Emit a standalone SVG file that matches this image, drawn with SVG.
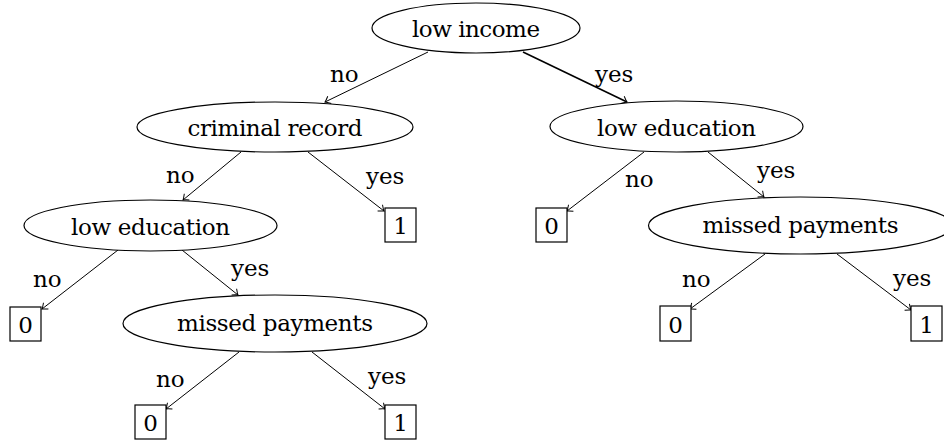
<svg xmlns="http://www.w3.org/2000/svg" width="944" height="441" viewBox="0 0 944 441">
<defs>
<style>
text{font-family:'DejaVu Serif',serif;font-size:23px;fill:#000}
.n text{text-anchor:middle}
.n ellipse,.n rect{fill:#fff;stroke:#000;stroke-width:1.2}
.e line{stroke:#000;stroke-width:1;marker-end:url(#arr)}
.e line.thick{stroke-width:1.6}
</style>
<marker id="arr" markerUnits="userSpaceOnUse" orient="auto" refX="0" refY="0" markerWidth="12" markerHeight="12" viewBox="-6 -6 12 12" overflow="visible">
<path d="M-5,-4 Q-1.5,-0.8 0,0 Q-1.5,0.8 -5,4" fill="none" stroke="#000" stroke-width="1"/>
</marker>
</defs>
<rect width="944" height="441" fill="#fff"/>
<g id="connectors" class="e">
<line x1="428" y1="52" x2="325" y2="102"/>
<line class="thick" x1="523" y1="52" x2="627" y2="102"/>
<line x1="241" y1="152" x2="183" y2="200"/>
<line x1="308" y1="152" x2="384" y2="211"/>
<line x1="118" y1="250" x2="42" y2="309"/>
<line x1="182" y1="250" x2="238" y2="295"/>
<line x1="239" y1="352" x2="166" y2="409"/>
<line x1="312" y1="352" x2="385" y2="409"/>
<line x1="644" y1="152" x2="567" y2="211"/>
<line x1="708" y1="152" x2="764" y2="197"/>
<line x1="765" y1="254" x2="690" y2="309"/>
<line x1="837" y1="254" x2="911" y2="310"/>
</g>
<g id="labels">
<text x="330" y="82">no</text>
<text x="595" y="82">yes</text>
<text x="166" y="183">no</text>
<text x="366" y="184">yes</text>
<text x="33" y="287">no</text>
<text x="231" y="276">yes</text>
<text x="156" y="387">no</text>
<text x="368" y="384">yes</text>
<text x="625" y="187">no</text>
<text x="757" y="178">yes</text>
<text x="682" y="287">no</text>
<text x="893" y="286">yes</text>
</g>
<g id="n_low_income" class="n"><ellipse cx="476" cy="28" rx="104" ry="25"/><text x="476" y="37" textLength="128">low income</text></g>
<g id="n_criminal_record" class="n"><ellipse cx="275" cy="127" rx="138" ry="25"/><text x="275" y="136" textLength="175">criminal record</text></g>
<g id="n_low_education_r" class="n"><ellipse cx="676.5" cy="126.5" rx="126.5" ry="25.5"/><text x="676.5" y="136" textLength="159">low education</text></g>
<g id="n_low_education_l" class="n"><ellipse cx="150.5" cy="225.5" rx="126.5" ry="25.5"/><text x="150.5" y="235" textLength="159">low education</text></g>
<g id="n_missed_l" class="n"><ellipse cx="275" cy="323.5" rx="152" ry="28.5"/><text x="275" y="331" textLength="196">missed payments</text></g>
<g id="n_missed_r" class="n"><ellipse cx="800.5" cy="225.5" rx="152" ry="28.5"/><text x="800.5" y="233" textLength="196">missed payments</text></g>
<g id="leaf_cr_yes" class="n"><rect x="385" y="208" width="31" height="34"/><text x="400.5" y="234">1</text></g>
<g id="leaf_le_no" class="n"><rect x="10" y="307" width="31" height="34"/><text x="25.5" y="333">0</text></g>
<g id="leaf_mp_l_no" class="n"><rect x="135" y="405" width="31" height="34"/><text x="150.5" y="431">0</text></g>
<g id="leaf_mp_l_yes" class="n"><rect x="385" y="405" width="31" height="34"/><text x="400.5" y="431">1</text></g>
<g id="leaf_le_r_no" class="n"><rect x="536" y="208" width="31" height="34"/><text x="551.5" y="234">0</text></g>
<g id="leaf_mp_r_no" class="n"><rect x="660" y="306" width="31" height="35"/><text x="675.5" y="333">0</text></g>
<g id="leaf_mp_r_yes" class="n"><rect x="911" y="306" width="31" height="35"/><text x="926.5" y="333">1</text></g>
</svg>
